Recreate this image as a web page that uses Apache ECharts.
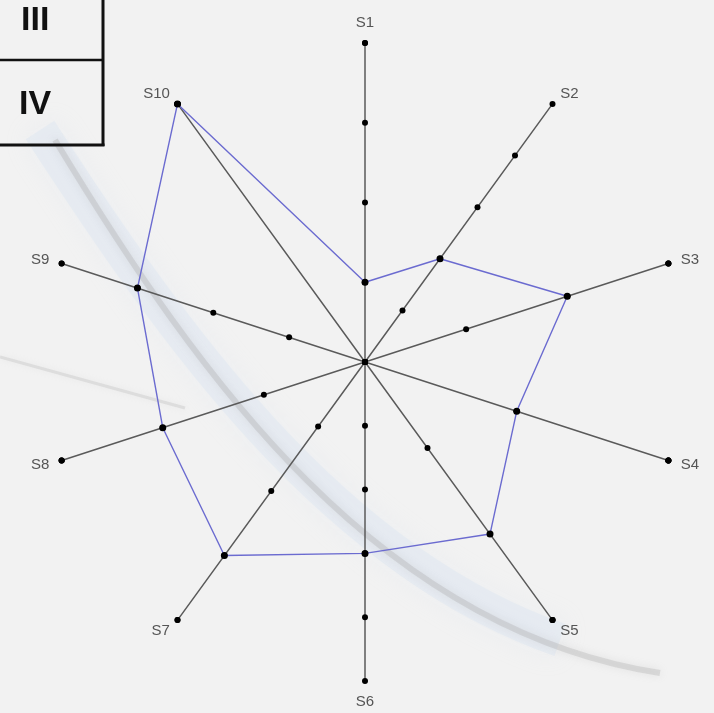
<!DOCTYPE html>
<html>
<head>
<meta charset="utf-8">
<script src="https://cdn.jsdelivr.net/npm/echarts@6/dist/echarts.min.js"></script>
<style>
html,body{margin:0;padding:0;background:#f2f2f2;}
#chart{width:714px;height:713px;}
</style>
</head>
<body>
<div id="chart"></div>
<script>
// Categories in clockwise order from the top
const categories = ['S1','S2','S3','S4','S5','S6','S7','S8','S9','S10'];
// Number of tick steps on each axis (axis maximum)
const axisMax = [4, 5, 3, 2, 3, 5, 4, 3, 4, 1];
// Series values
const values = [1, 2, 2, 1, 2, 3, 3, 2, 3, 1];
// Table fragment labels (top-left)
const tableLabels = ['III', 'IV'];

// ECharts radar lays indicators out counter-clockwise; reverse order (keep S1 first)
const order = [0].concat(categories.map((_, i) => i).slice(1).reverse());
const indicator = order.map(i => ({ name: categories[i], max: axisMax[i], min: 0 }));
const dataVals = order.map(i => values[i]);

const maxSteps = Math.max.apply(null, axisMax);
const tickSeries = [];
for (let k = 0; k <= maxSteps; k++) {
  tickSeries.push({
    type: 'radar',
    silent: true,
    symbol: 'circle',
    symbolSize: 6,
    itemStyle: { color: '#000' },
    lineStyle: { opacity: 0, width: 0 },
    z: 3,
    data: [{ value: order.map(i => Math.min(k, axisMax[i])) }]
  });
}

const chart = echarts.init(document.getElementById('chart'), null, { renderer: 'canvas' });
chart.setOption({
  backgroundColor: '#f2f2f2',
  animation: false,
  graphic: [
    // decorative swoosh in background
    { type: 'bezierCurve', silent: true, z: -10,
      shape: { x1: 40, y1: 130, x2: 560, y2: 640, cpx1: 170, cpy1: 330, cpx2: 330, cpy2: 560 },
      style: { stroke: 'rgba(215,225,240,0.35)', lineWidth: 34, fill: null, shadowBlur: 25, shadowColor: 'rgba(215,225,240,0.6)' } },
    { type: 'bezierCurve', silent: true, z: -10,
      shape: { x1: 55, y1: 140, x2: 660, y2: 673, cpx1: 200, cpy1: 380, cpx2: 380, cpy2: 630 },
      style: { stroke: 'rgba(165,165,165,0.3)', lineWidth: 6, fill: null, shadowBlur: 8, shadowColor: 'rgba(160,160,160,0.6)' } },
    { type: 'line', silent: true, z: -10,
      shape: { x1: 0, y1: 357, x2: 185, y2: 408 },
      style: { stroke: 'rgba(190,190,190,0.35)', lineWidth: 3, shadowBlur: 6, shadowColor: 'rgba(190,190,190,0.5)' } },
    // table fragment
    { type: 'line', shape: { x1: 103, y1: 0, x2: 103, y2: 146 }, style: { stroke: '#111', lineWidth: 3 } },
    { type: 'line', shape: { x1: 0, y1: 60, x2: 103, y2: 60 }, style: { stroke: '#111', lineWidth: 2.5 } },
    { type: 'line', shape: { x1: 0, y1: 145, x2: 104.5, y2: 145 }, style: { stroke: '#111', lineWidth: 3 } },
    { type: 'text', left: 21, top: 4, style: { text: tableLabels[0], font: 'bold 34px "Liberation Sans", Arial, sans-serif', fill: '#111' } },
    { type: 'text', left: 19, top: 88, style: { text: tableLabels[1], font: 'bold 34px "Liberation Sans", Arial, sans-serif', fill: '#111' } }
  ],
  radar: {
    center: [365, 362],
    radius: 319,
    startAngle: 90,
    splitNumber: 1,
    shape: 'polygon',
    indicator: indicator,
    nameGap: 13,
    axisName: { color: '#555', fontSize: 15, fontFamily: 'Arial, "Liberation Sans", sans-serif' },
    axisLine: { lineStyle: { color: '#5a5a5a', width: 1.5 } },
    splitLine: { show: false },
    splitArea: { show: false },
    axisTick: { show: false },
    axisLabel: { show: false }
  },
  series: tickSeries.concat([{
    type: 'radar',
    symbol: 'circle',
    symbolSize: 7,
    itemStyle: { color: '#000' },
    lineStyle: { color: '#6b6bd0', width: 1.4 },
    z: 4,
    data: [{ value: dataVals, name: 'Series' }]
  }])
});
</script>
</body>
</html>
